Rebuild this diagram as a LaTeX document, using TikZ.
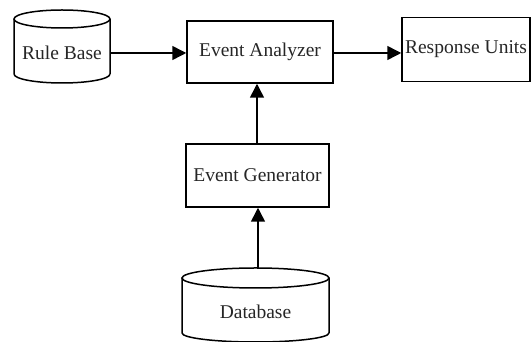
\documentclass[tikz,border=0pt]{standalone}
\usepackage{fontspec}
\setmainfont{Liberation Serif}
\usetikzlibrary{arrows.meta}
\begin{document}
\begin{tikzpicture}[x=1pt,y=1pt,
  line width=1.5pt,
  box/.style={draw,rectangle,inner sep=0pt,font=\fontsize{19.5}{22}\selectfont,text=black!85},
  lbl/.style={inner sep=0pt,font=\fontsize{19.5}{22}\selectfont,text=black!85},
  arr/.style={-{Triangle[length=14pt,width=14pt]}}]
\useasboundingbox (0,0) rectangle (531,342);
% Rule Base cylinder
\draw (14,268) -- (14,323) (110,323) -- (110,268)
      (14,268) arc[start angle=180,end angle=360,x radius=48,y radius=9];
\draw (62,323) ellipse[x radius=48,y radius=9];
\node[lbl] (rb) at (62,289) {Rule Base};
\coordinate (rbR) at (110,289);
% Database cylinder
\draw (182,9) -- (182,64) (329,64) -- (329,9)
      (182,9) arc[start angle=180,end angle=360,x radius=73.5,y radius=9];
\draw (255.5,64) ellipse[x radius=73.5,y radius=10];
\node[lbl] (db) at (255.5,30) {Database};
\coordinate (dbT) at (258,74);
% Boxes
\node[box,minimum width=128pt,minimum height=64pt] (ru) at (466,292.5) {Response Units};
\node[box,minimum width=146pt,minimum height=62pt] (ea) at (260,290) {Event Analyzer};
\node[box,minimum width=143pt,minimum height=63pt] (eg) at (257.5,166.5) {Event Generator};
% Connectors
\draw[arr] (rbR) -- (ea.west |- rbR);
\draw[arr] (ea.east |- rbR) -- (ru.west |- rbR);
\draw[arr] (eg.north -| 257,0) -- (ea.south -| 257,0);
\draw[arr] (dbT) -- (eg.south -| dbT);
\end{tikzpicture}
\end{document}
